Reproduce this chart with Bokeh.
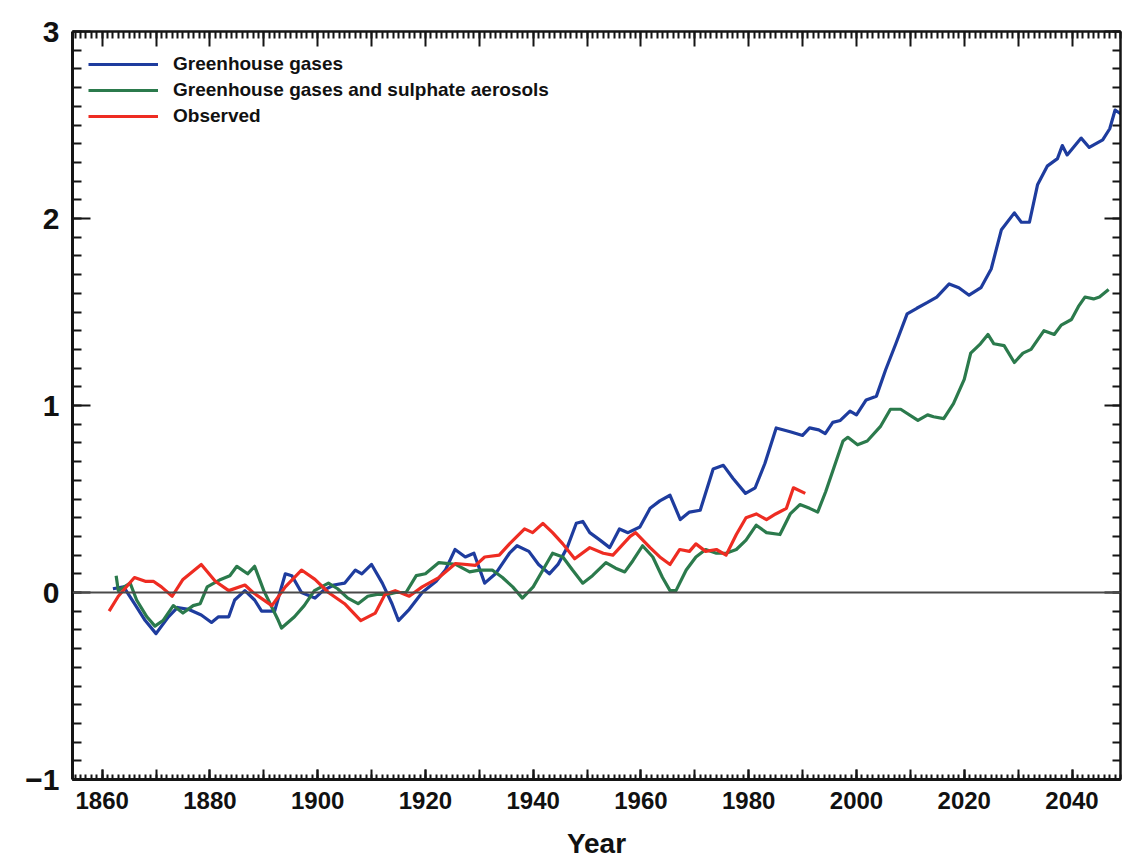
from bokeh.plotting import figure
from bokeh.models import (Range1d, LinearAxis, FixedTicker, Span,
                          Legend, LegendItem)
from bokeh.embed import file_html
from bokeh.resources import INLINE

# ---------------- data ----------------
obs_years = [1861.3, 1863, 1866, 1868, 1869.5, 1871, 1873, 1875, 1878.4, 1881,
             1883.5, 1886.5, 1888, 1891.5, 1894, 1897, 1899.5, 1902, 1905, 1908,
             1910.7, 1912.5, 1914.4, 1917, 1919.4, 1922.5, 1925.6, 1929.3, 1931,
             1933.7, 1935.6, 1938.4, 1939.9, 1941.8, 1943.6, 1945.5, 1947.7,
             1950.5, 1953, 1954.8, 1958, 1959, 1961.7, 1963.5, 1965.4, 1967.2,
             1969, 1970.2, 1972, 1974, 1975.8, 1977.7, 1979.5, 1981.4, 1983.3,
             1985, 1987, 1988.3, 1990.5]
obs_vals = [-0.10, -0.02, 0.08, 0.06, 0.06, 0.03, -0.02, 0.07, 0.15, 0.06,
            0.01, 0.04, 0.00, -0.07, 0.03, 0.12, 0.07, 0.00, -0.06, -0.15,
            -0.11, -0.01, 0.01, -0.02, 0.03, 0.08, 0.155, 0.145, 0.19,
            0.20, 0.26, 0.34, 0.32, 0.37, 0.32, 0.26, 0.18,
            0.24, 0.21, 0.20, 0.30, 0.32, 0.24, 0.19, 0.15, 0.23,
            0.22, 0.26, 0.22, 0.23, 0.20, 0.31, 0.40, 0.42, 0.39,
            0.42, 0.45, 0.56, 0.53]

ghg_years = [1862, 1864, 1866, 1868, 1870, 1872.3, 1874, 1876, 1878.4, 1880.3,
             1881.6, 1883.5, 1884.6, 1886.5, 1888.3, 1889.6, 1892, 1894, 1895.2,
             1897, 1899.5, 1901, 1903, 1905, 1907, 1908.2, 1910, 1912, 1913.8,
             1915, 1917, 1919.4, 1922, 1923.7, 1925.5, 1927.4, 1929, 1931, 1933,
             1935.6, 1937, 1939.2, 1941, 1943, 1944.6, 1946.3, 1948, 1949.2,
             1950.5, 1952.4, 1954.2, 1956, 1957.6, 1959.8, 1961.7, 1963.5,
             1965.4, 1967.3, 1969, 1971, 1973.4, 1975.3, 1977.1, 1979.4, 1981.2,
             1983, 1985.1, 1987.7, 1990, 1991.3, 1993, 1994.2, 1995.6, 1997,
             1998.8, 2000, 2001.8, 2003.7, 2005.4, 2007.3, 2009.4, 2011.2,
             2013.1, 2014.9, 2017.2, 2019, 2020.9, 2023.1, 2025, 2026.9, 2029.3,
             2030.6, 2032.1, 2033.6, 2035.4, 2037.3, 2038.2, 2039.1, 2041.7,
             2043.2, 2045.7, 2047, 2048, 2049]
ghg_vals = [0.02, 0.03, -0.06, -0.15, -0.22, -0.13, -0.08, -0.09, -0.12, -0.16,
            -0.13, -0.13, -0.04, 0.01, -0.04, -0.10, -0.10, 0.10, 0.09,
            0.00, -0.03, 0.01, 0.04, 0.05, 0.12, 0.10, 0.15, 0.05, -0.06,
            -0.15, -0.09, 0.00, 0.06, 0.12, 0.23, 0.19, 0.21, 0.05, 0.10,
            0.21, 0.25, 0.22, 0.15, 0.10, 0.15, 0.24, 0.37, 0.38,
            0.32, 0.28, 0.24, 0.34, 0.32, 0.35, 0.45, 0.49,
            0.52, 0.39, 0.43, 0.44, 0.66, 0.68, 0.61, 0.53, 0.56,
            0.69, 0.88, 0.86, 0.84, 0.88, 0.87, 0.85, 0.91, 0.92,
            0.97, 0.95, 1.03, 1.05, 1.19, 1.33, 1.49, 1.52,
            1.55, 1.58, 1.65, 1.63, 1.59, 1.63, 1.73, 1.94, 2.03,
            1.98, 1.98, 2.18, 2.28, 2.32, 2.39, 2.34, 2.43,
            2.38, 2.42, 2.48, 2.58, 2.56]

sul_years = [1862.6, 1863, 1865.2, 1866.4, 1868.3, 1869.8, 1871.3, 1873.2, 1875,
             1876.9, 1878.2, 1879.5, 1882, 1883.7, 1885, 1887, 1888.3, 1890,
             1892.7, 1893.3, 1895.7, 1897.5, 1899.4, 1902, 1903.7, 1905.6,
             1907.5, 1909.3, 1911, 1913, 1914.5, 1916.4, 1918.3, 1920, 1922.5,
             1925.6, 1928.2, 1930, 1932.4, 1934.3, 1936.2, 1938, 1940, 1941.8,
             1943.6, 1945.5, 1947.3, 1949.2, 1951, 1953.5, 1955.3, 1957, 1958.5,
             1960.3, 1962.2, 1964, 1965.4, 1966.5, 1968.4, 1970.2, 1972, 1974,
             1975.8, 1977.7, 1979.5, 1981.4, 1983.3, 1985.8, 1987.7, 1989.5,
             1991.3, 1992.8, 1994.3, 1996.2, 1997.5, 1998.4, 2000.2, 2002,
             2004.5, 2006.3, 2008.2, 2011.4, 2013.2, 2014.3, 2016.2, 2018, 2020,
             2021.2, 2023, 2024.4, 2025.5, 2027.4, 2029.3, 2030.9, 2032.4,
             2034.8, 2036.7, 2038, 2039.9, 2041.2, 2042.4, 2044, 2045.1, 2046.8]
sul_vals = [0.09, 0.01, 0.05, -0.04, -0.13, -0.18, -0.15, -0.07, -0.11,
            -0.07, -0.06, 0.03, 0.07, 0.09, 0.14, 0.10, 0.14, 0.01,
            -0.15, -0.19, -0.13, -0.07, 0.01, 0.05, 0.02, -0.03,
            -0.06, -0.02, -0.01, -0.01, 0.00, 0.00, 0.09, 0.10, 0.16,
            0.15, 0.11, 0.12, 0.12, 0.08, 0.03, -0.03, 0.03, 0.12,
            0.21, 0.19, 0.12, 0.05, 0.09, 0.16, 0.13, 0.11, 0.17,
            0.25, 0.19, 0.08, 0.01, 0.01, 0.12, 0.19, 0.23, 0.21,
            0.21, 0.23, 0.28, 0.36, 0.32, 0.31, 0.42, 0.47,
            0.45, 0.43, 0.54, 0.70, 0.81, 0.83, 0.79, 0.81,
            0.89, 0.98, 0.98, 0.92, 0.95, 0.94, 0.93, 1.01, 1.14,
            1.28, 1.33, 1.38, 1.33, 1.32, 1.23, 1.28, 1.30,
            1.40, 1.38, 1.43, 1.46, 1.53, 1.58, 1.57, 1.58, 1.62]

series_labels = ["Greenhouse gases",
                 "Greenhouse gases and sulphate aerosols",
                 "Observed"]
x_label_years = [1860, 1880, 1900, 1920, 1940, 1960, 1980, 2000, 2020, 2040]
y_label_values = [-1, 0, 1, 2, 3]

# tick positions
x_year_ticks = list(range(1855, 2050))
x_decade_ticks = list(range(1860, 2050, 10))
y_tenth_ticks = [i / 10 for i in range(-10, 31)]

# ---------------- styles ----------------
FONT = "Liberation Sans"
BLUE = "#1e3c9e"
GREEN = "#2b7a4c"
RED = "#ee2c22"
AXIS_COLOR = "#151515"
TEXT_COLOR = "#111111"

p = figure(width=1122, height=864, output_backend="svg", toolbar_location=None,
           x_range=Range1d(1854.5, 2049), y_range=Range1d(-1, 3),
           x_axis_location=None, y_axis_location=None,
           min_border_left=72, min_border_right=2, min_border_top=31,
           min_border_bottom=85)
p.outline_line_color = None
p.grid.visible = False
p.background_fill_color = "white"
p.border_fill_color = "white"


def tick_only_axis(minor_ticks, length, lw):
    """An axis that only draws inward tick marks (no labels)."""
    ax = LinearAxis(ticker=FixedTicker(ticks=[], minor_ticks=minor_ticks))
    ax.axis_line_color = AXIS_COLOR
    ax.axis_line_width = lw
    ax.minor_tick_line_color = AXIS_COLOR
    ax.minor_tick_line_width = 2
    ax.minor_tick_in = length
    ax.minor_tick_out = 0
    ax.major_tick_in = 0
    ax.major_tick_out = 0
    ax.major_label_standoff = 0
    return ax


# bottom: decade ticks (longer), then labelled axis with yearly minor ticks
p.add_layout(tick_only_axis(x_decade_ticks, 10, 3), "below")
bx = LinearAxis(ticker=FixedTicker(ticks=x_label_years, minor_ticks=x_year_ticks),
                axis_label="Year")
bx.axis_line_color = AXIS_COLOR
bx.axis_line_width = 3
bx.major_tick_line_color = AXIS_COLOR
bx.minor_tick_line_color = AXIS_COLOR
bx.major_tick_line_width = 2
bx.minor_tick_line_width = 2
bx.major_tick_in = 10
bx.major_tick_out = 0
bx.minor_tick_in = 5
bx.minor_tick_out = 0
bx.major_label_text_font = FONT
bx.major_label_text_font_style = "bold"
bx.major_label_text_font_size = "24px"
bx.major_label_text_color = TEXT_COLOR
bx.major_label_standoff = 12
bx.axis_label_text_font = FONT
bx.axis_label_text_font_style = "bold"
bx.axis_label_text_font_size = "28px"
bx.axis_label_text_color = TEXT_COLOR
bx.axis_label_standoff = 16
p.add_layout(bx, "below")

# top: yearly and decade ticks
p.add_layout(tick_only_axis(x_year_ticks, 7, 2), "above")
p.add_layout(tick_only_axis(x_decade_ticks, 15, 2), "above")

# left: labelled
ly = LinearAxis(ticker=FixedTicker(ticks=y_label_values, minor_ticks=y_tenth_ticks))
ly.axis_line_color = AXIS_COLOR
ly.axis_line_width = 3
ly.major_tick_line_color = AXIS_COLOR
ly.minor_tick_line_color = AXIS_COLOR
ly.major_tick_line_width = 2
ly.minor_tick_line_width = 2
ly.major_tick_in = 18
ly.major_tick_out = 0
ly.minor_tick_in = 9
ly.minor_tick_out = 0
ly.major_label_overrides = {-1: "\u22121"}
ly.major_label_text_font = FONT
ly.major_label_text_font_style = "bold"
ly.major_label_text_font_size = "30px"
ly.major_label_text_color = TEXT_COLOR
ly.major_label_standoff = 13
p.add_layout(ly, "left")

# right: tenth and integer ticks
p.add_layout(tick_only_axis(y_tenth_ticks, 8, 2), "right")
p.add_layout(tick_only_axis(y_label_values, 16, 2), "right")

# zero line
p.add_layout(Span(location=0, dimension="width", line_color="#4a4a4a",
                  line_width=2))

r_ghg = p.line(ghg_years, ghg_vals, line_color=BLUE, line_width=3.2,
               line_join="round")
r_sul = p.line(sul_years, sul_vals, line_color=GREEN, line_width=3.2,
               line_join="round")
r_obs = p.line(obs_years, obs_vals, line_color=RED, line_width=3.2,
               line_join="round")

legend = Legend(items=[LegendItem(label=series_labels[0], renderers=[r_ghg]),
                       LegendItem(label=series_labels[1], renderers=[r_sul]),
                       LegendItem(label=series_labels[2], renderers=[r_obs])],
                location=(16, 652), orientation="vertical")
legend.border_line_color = None
legend.background_fill_alpha = 0
legend.padding = 0
legend.margin = 0
legend.spacing = 4
legend.glyph_width = 70
legend.glyph_height = 20
legend.label_height = 20
legend.label_standoff = 15
legend.label_text_font = FONT
legend.label_text_font_style = "bold"
legend.label_text_font_size = "19px"
legend.label_text_color = TEXT_COLOR
legend.label_text_baseline = "middle"
p.add_layout(legend)

open("out.html", "w").write(file_html(p, INLINE))
